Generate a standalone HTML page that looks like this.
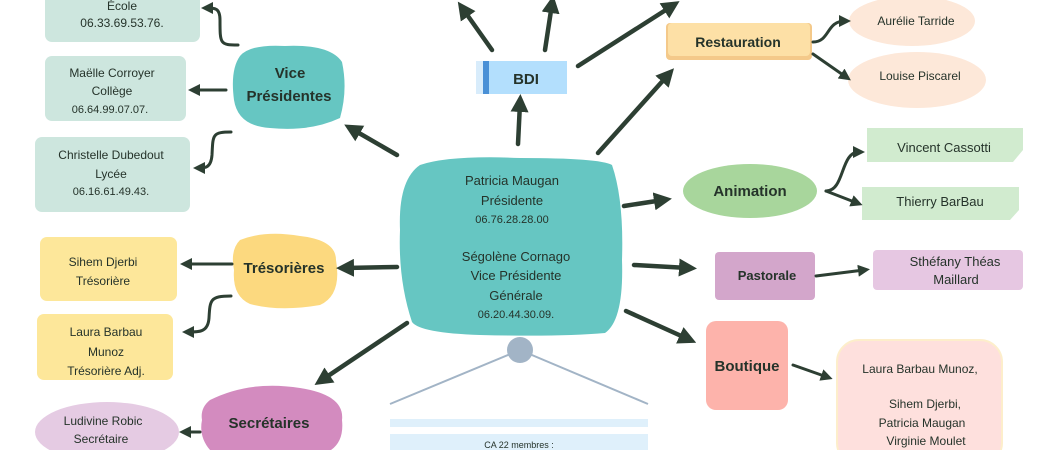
<!DOCTYPE html>
<html><head><meta charset="utf-8"><style>
html,body{margin:0;padding:0;background:#fff;width:1062px;height:450px;overflow:hidden}
svg text{font-family:"Liberation Sans",sans-serif;fill:#25332a;text-anchor:middle}
svg text.h{font-weight:bold}
</style></head><body>
<svg width="1062" height="450" viewBox="0 0 1062 450" xmlns="http://www.w3.org/2000/svg">
<defs>
<marker id="a" markerWidth="4" markerHeight="4" refX="2" refY="2" orient="auto" markerUnits="strokeWidth"><path d="M0,0 L4,2 L0,4 Z" fill="#2d3f33"/></marker>
<marker id="b" markerWidth="4" markerHeight="4" refX="2" refY="2" orient="auto" markerUnits="strokeWidth"><path d="M0,0 L4,2 L0,4 Z" fill="#2d3f33"/></marker>
</defs>
<rect x="45" y="-8" width="155" height="50" rx="7" fill="#cde6de"/>
<text x="122" y="10" font-size="12">École</text>
<text x="122" y="27" font-size="12">06.33.69.53.76.</text>
<rect x="45" y="56" width="141" height="65" rx="7" fill="#cde6de"/>
<text x="112" y="77" font-size="12">Maëlle Corroyer</text>
<text x="112" y="95" font-size="12">Collège</text>
<text x="110" y="113" font-size="11">06.64.99.07.07.</text>
<rect x="35" y="137" width="155" height="75" rx="7" fill="#cde6de"/>
<text x="111" y="159" font-size="12">Christelle Dubedout</text>
<text x="111" y="178" font-size="12">Lycée</text>
<text x="111" y="195" font-size="11">06.16.61.49.43.</text>
<path d="M240,56 Q250,44 285,46 Q330,44 342,62 Q348,90 340,118 Q310,132 270,128 Q238,126 234,100 Q230,70 240,56Z" fill="#66c6c2"/>
<text class="h" x="290" y="78" font-size="15">Vice</text>
<text class="h" x="289" y="101" font-size="15">Présidentes</text>
<rect x="40" y="237" width="137" height="64" rx="7" fill="#fde79a"/>
<text x="103" y="266" font-size="12">Sihem Djerbi</text>
<text x="103" y="285" font-size="12">Trésorière</text>
<rect x="37" y="314" width="136" height="66" rx="7" fill="#fde79a"/>
<text x="106" y="336" font-size="12">Laura Barbau</text>
<text x="106" y="356" font-size="12">Munoz</text>
<text x="106" y="375" font-size="12">Trésorière Adj.</text>
<path d="M240,240 Q265,230 300,236 Q336,240 336,260 Q342,295 320,305 Q280,312 250,304 Q232,296 234,270 Q230,250 240,240Z" fill="#fcd97f"/>
<text class="h" x="284" y="273" font-size="15">Trésorières</text>
<path d="M210,400 Q250,380 300,388 Q345,395 342,420 Q345,448 320,455 L215,455 Q198,440 202,420 Q200,408 210,400Z" fill="#d38bbf"/>
<text class="h" x="269" y="428" font-size="15">Secrétaires</text>
<ellipse cx="107" cy="432" rx="72" ry="30" fill="#e5cbe3"/>
<text x="103" y="425" font-size="12">Ludivine Robic</text>
<text x="101" y="443" font-size="12">Secrétaire</text>
<path d="M420,165 Q450,155 520,158 Q600,158 612,165 Q624,200 622,260 Q624,320 605,333 Q560,337 480,335 Q420,333 412,322 Q398,280 400,230 Q398,180 420,165Z" fill="#66c6c2"/>
<text x="512" y="185" font-size="13">Patricia Maugan</text>
<text x="512" y="205" font-size="13">Présidente</text>
<text x="512" y="223" font-size="11">06.76.28.28.00</text>
<text x="516" y="261" font-size="13">Ségolène Cornago</text>
<text x="516" y="280" font-size="13">Vice Présidente</text>
<text x="516" y="300" font-size="13">Générale</text>
<text x="516" y="318" font-size="11">06.20.44.30.09.</text>
<rect x="476" y="61" width="91" height="33" fill="#b3dffd"/>
<rect x="476" y="61" width="7" height="33" fill="#d8ecfb"/>
<rect x="483" y="61" width="6" height="33" fill="#4a90d6"/>
<text class="h" x="526" y="84" font-size="15">BDI</text>
<line x1="390" y1="404" x2="520" y2="350" stroke="#a2b4c6" stroke-width="2"/>
<line x1="648" y1="404" x2="520" y2="350" stroke="#a2b4c6" stroke-width="2"/>
<circle cx="520" cy="350" r="13" fill="#a2b4c6"/>
<rect x="390" y="419" width="258" height="8" fill="#dff0fb"/>
<rect x="390" y="434" width="258" height="16" fill="#dff0fb"/>
<text x="519" y="448" font-size="9">CA 22 membres :</text>
<rect x="666" y="23" width="146" height="37" rx="4" fill="#f4c98a"/>
<rect x="668" y="23" width="142" height="33" rx="4" fill="#fde0a6"/>
<text class="h" x="738" y="47" font-size="14">Restauration</text>
<ellipse cx="912" cy="21" rx="63" ry="25" fill="#fde8d9"/>
<text x="916" y="25" font-size="12">Aurélie Tarride</text>
<ellipse cx="917" cy="80" rx="69" ry="28" fill="#fde8d9"/>
<text x="920" y="80" font-size="12">Louise Piscarel</text>
<ellipse cx="750" cy="191" rx="67" ry="27" fill="#a8d69c"/>
<text class="h" x="750" y="196" font-size="15">Animation</text>
<path d="M867,128 L1023,128 L1023,150 L1013,162 L867,162Z" fill="#d1ebcf"/>
<text x="944" y="152" font-size="13">Vincent Cassotti</text>
<path d="M862,187 L1019,187 L1019,210 L1010,220 L862,220Z" fill="#d1ebcf"/>
<text x="940" y="206" font-size="13">Thierry BarBau</text>
<rect x="715" y="252" width="100" height="48" rx="4" fill="#d3a6cb"/>
<text class="h" x="767" y="280" font-size="13">Pastorale</text>
<rect x="873" y="250" width="150" height="40" rx="4" fill="#e6c7e2"/>
<text x="955" y="266" font-size="13">Sthéfany Théas</text>
<text x="956" y="284" font-size="13">Maillard</text>
<rect x="706" y="321" width="82" height="89" rx="10" fill="#fdb3ab"/>
<text class="h" x="747" y="371" font-size="15">Boutique</text>
<rect x="837" y="340" width="165" height="125" rx="22" fill="#fee0dd" stroke="#fdeecb" stroke-width="2"/>
<text x="920" y="373" font-size="12">Laura Barbau Munoz,</text>
<text x="925" y="408" font-size="12">Sihem Djerbi,</text>
<text x="922" y="427" font-size="12">Patricia Maugan</text>
<text x="926" y="445" font-size="12">Virginie Moulet</text>
<g stroke="#2d3f33" stroke-width="4.5" fill="none" marker-end="url(#a)" stroke-linecap="round">
<line x1="397" y1="155" x2="352" y2="129"/>
<line x1="397" y1="267" x2="345" y2="268"/>
<line x1="407" y1="323" x2="322" y2="380"/>
<line x1="518" y1="144" x2="520" y2="103"/>
<line x1="492" y1="50" x2="463" y2="9"/>
<line x1="545" y1="50" x2="552" y2="4"/>
<line x1="578" y1="66" x2="672" y2="6"/>
<line x1="598" y1="153" x2="668" y2="75"/>
<line x1="624" y1="206" x2="663" y2="200"/>
<line x1="634" y1="265" x2="688" y2="268"/>
<line x1="626" y1="311" x2="688" y2="339"/>
</g>
<g stroke="#2d3f33" stroke-width="3" fill="none" marker-end="url(#b)" stroke-linecap="round">
<path d="M238,45 C220,45 220,44 220,20 C220,8 215,8 207,8"/>
<line x1="226" y1="90" x2="194" y2="90"/>
<path d="M231,132 C212,132 213,135 212,155 C211,168 205,168 199,168"/>
<line x1="232" y1="264" x2="186" y2="264"/>
<path d="M231,296 C210,296 210,300 209,318 C208,332 200,332 188,332"/>
<line x1="200" y1="432" x2="185" y2="432"/>
<path d="M813,42 C830,42 826,21 845,21"/>
<line x1="813" y1="54" x2="846" y2="77"/>
<path d="M826,191 C845,191 840,152 859,152"/>
<line x1="826" y1="191" x2="857" y2="203"/>
<line x1="816" y1="276" x2="864" y2="270"/>
<line x1="793" y1="365" x2="827" y2="377"/>
</g>
</svg>
</body></html>
